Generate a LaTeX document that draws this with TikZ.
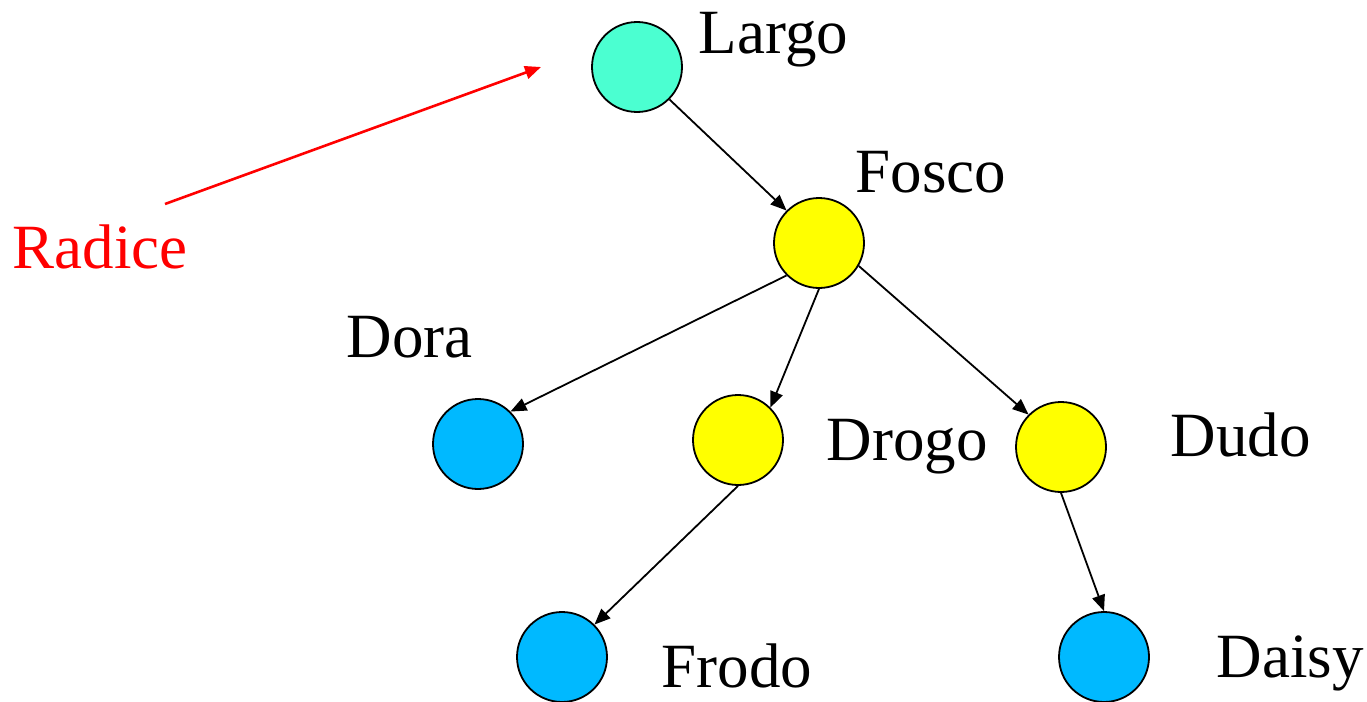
\documentclass[tikz,border=0pt]{standalone}
\usepackage{fontspec}
\setmainfont{Liberation Serif}
\usetikzlibrary{arrows.meta}
\definecolor{rootgreen}{HTML}{4BFFD1}
\definecolor{leafblue}{HTML}{00B9FF}
\definecolor{inyellow}{HTML}{FFFF00}
\begin{document}
\begin{tikzpicture}[x=1pt,y=-1pt,line width=1.8pt,main/.style={draw,circle,minimum size=90pt,inner sep=0pt},lbl/.style={anchor=base west,inner sep=0pt,font=\fontsize{63}{70}\selectfont},>={Triangle[length=16pt,width=13pt]}]
                \useasboundingbox (0,0) rectangle (1367,701);
                \node[main,fill=rootgreen](0) at (637,67){};
                \node[main,fill=inyellow](1) at (819,243){};
                \node[main,fill=leafblue](2) at (478,444){};
                \node[main,fill=inyellow](3) at (738,440){};
                \node[main,fill=inyellow](4) at (1061,447){};
                \node[main,fill=leafblue](5) at (562,657){};
                \node[main,fill=leafblue](6) at (1104,657){};
                \node[lbl](l0) at (698,53){Largo};
                \node[lbl](l1) at (855,192){Fosco};
                \node[lbl](l2) at (346,357){Dora};
                \node[lbl](l3) at (826,460){Drogo};
                \node[lbl](l4) at (1170,456){Dudo};
                \node[lbl](l5) at (661,687){Frodo};
                \node[lbl](l6) at (1216,677){Daisy};
                \node[lbl,text=red](r) at (12,268){Radice};
                \coordinate (rs) at (165,204);
                \coordinate (rt) at (541,67);
                \draw[->](0.south east) -- (1.north west);
                \draw[->](1.south west) -- (2.north east);
                \draw[->](1.south) -- (3.north east);
                \draw[->](1.-30) -- (4.north west);
                \draw[->](3.south) -- (5.north east);
                \draw[->](4.south) -- (6.north);
                \draw[->,red,line width=2.6pt](rs) -- (rt);
            \end{tikzpicture}
\end{document}
